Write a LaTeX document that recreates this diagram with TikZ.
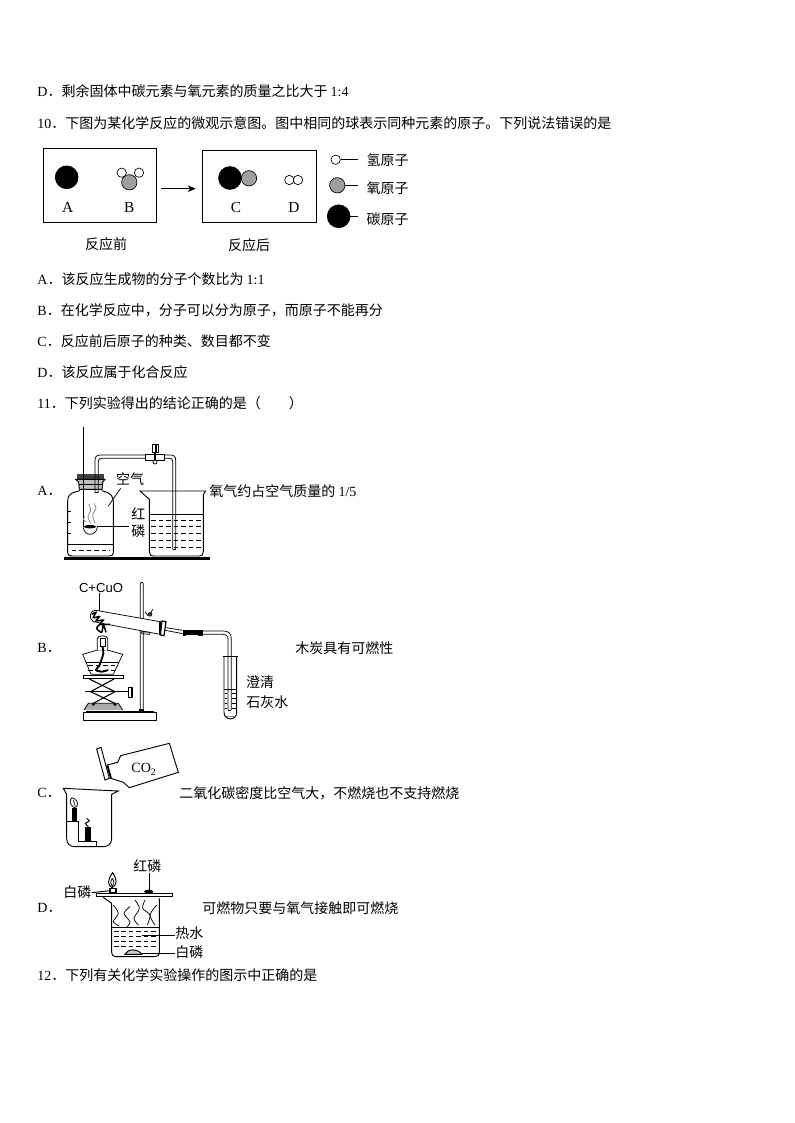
\documentclass[tikz,border=0pt]{standalone}
\usepackage{fontspec}
\setmainfont{Liberation Serif}
\setsansfont{Liberation Sans}
\newfontfamily\cjk{Noto Sans CJK SC}
\usetikzlibrary{arrows.meta,calc}
\tikzset{
  textline/.style={anchor=west,inner sep=0pt,font=\fontsize{10.5pt}{12pt}\selectfont\cjk},
  lab/.style={inner sep=0pt,font=\fontsize{10.5pt}{12pt}\selectfont\cjk},
  latin/.style={inner sep=0pt,font=\fontsize{11.5pt}{13pt}\selectfont},
  panelbox/.style={draw,anchor=north west,inner sep=0pt,line width=.7pt},
  atomblack/.style={circle,fill=black,draw=black,inner sep=0pt,minimum size=17pt},
  atomgrey/.style={circle,fill=gray!75,draw=black,inner sep=0pt,minimum size=11.5pt,line width=.5pt},
  atomwhite/.style={circle,fill=white,draw=black,inner sep=0pt,minimum size=7pt,line width=.5pt},
  thinl/.style={line width=.55pt},
  water/.style={line width=.55pt,dash pattern=on 3.4pt off 2.2pt},
}
\newcommand{\lat}[1]{{\rmfamily #1}}
\begin{document}
\begin{tikzpicture}[x=.75pt,y=-.75pt,line width=.65pt]
\useasboundingbox[fill=white] (0,0) rectangle (794,1123);
% text lines
\node[textline] (t1) at (37,91) {\lat{D}．剩余固体中碳元素与氧元素的质量之比大于 \lat{1:4}};
\node[textline] (t2) at (37,123) {\lat{10}．下图为某化学反应的微观示意图。图中相同的球表示同种元素的原子。下列说法错误的是};
\node[textline] (t3) at (37,279) {\lat{A}．该反应生成物的分子个数比为 \lat{1:1}};
\node[textline] (t4) at (37,310) {\lat{B}．在化学反应中，分子可以分为原子，而原子不能再分};
\node[textline] (t5) at (37,341) {\lat{C}．反应前后原子的种类、数目都不变};
\node[textline] (t6) at (37,372) {\lat{D}．该反应属于化合反应};
\node[textline] (t7) at (37,403) {\lat{11}．下列实验得出的结论正确的是（　　）};
\node[textline] (t8) at (37,491) {\lat{A}．};
\node[textline] (t9) at (209,491) {氧气约占空气质量的 \lat{1/5}};
\node[textline] (t10) at (37,648) {\lat{B}．};
\node[textline] (t11) at (295,648) {木炭具有可燃性};
\node[textline] (t12) at (37,793) {\lat{C}．};
\node[textline] (t13) at (179,793) {二氧化碳密度比空气大，不燃烧也不支持燃烧};
\node[textline] (t14) at (37,908) {\lat{D}．};
\node[textline] (t15) at (202,908) {可燃物只要与氧气接触即可燃烧};
\node[textline] (t16) at (37,975) {\lat{12}．下列有关化学实验操作的图示中正确的是};

% reaction diagram
\node[panelbox,minimum width=84.3pt,minimum height=55pt] (box1) at (43.3,148.3) {};
\node[panelbox,minimum width=85pt,minimum height=54pt] (box2) at (202.3,150.3) {};
\node[atomblack] (aA) at (66.7,177.3) {};
\node[atomgrey] (aB) at (129.3,182.3) {};
\node[atomwhite] (aB1) at (121.7,172.7) {};
\node[atomwhite] (aB2) at (139,172.7) {};
\node[atomblack] (aC) at (230,178) {};
\node[atomgrey] (aC2) at (249,178.3) {};
\node[atomwhite] (aD1) at (289.3,180) {};
\node[atomwhite] (aD2) at (298,180) {};
\node[latin] (lA) at (67.7,207.3) {A};
\node[latin] (lB) at (129.3,207.3) {B};
\node[latin] (lC) at (236,207.3) {C};
\node[latin] (lD) at (294,207.3) {D};
\coordinate (arS) at (161,188.7);
\coordinate (arE) at (195.7,188.7);
\draw[-{Stealth[length=6pt,width=5pt]}] (arS) -- (arE);
\node[atomwhite] (kH) at (335.7,159.7) {};
\node[atomgrey] (kO) at (337.3,185.3) {};
\node[atomblack] (kC) at (338.7,216.3) {};
\coordinate (kH2) at (358,159.7);
\coordinate (kO2) at (358,185.3);
\coordinate (kC2) at (358,216.3);
\draw (kH) -- (kH2); \draw (kO) -- (kO2); \draw (kC) -- (kC2);
\node[lab] (nH) at (387.7,160) {氢原子};
\node[lab] (nO) at (387.7,187.7) {氧原子};
\node[lab] (nC) at (387.7,219.3) {碳原子};
\node[lab] (nB) at (106,244) {反应前};
\node[lab] (nA) at (249,244.7) {反应后};

% ---------- apparatus A ----------
\begin{scope}[shift={(30,420)},x=.25pt,y=-.25pt]
\draw[line width=2.2pt] (103,415) -- (540,415);
% bottle
\draw[line width=.7pt] (150,212) -- (135,216) .. controls (120,220) and (113,228) .. (113,245) -- (113,395) .. controls (113,405) and (118,408) .. (128,408) -- (238,408) .. controls (246,408) and (250,405) .. (250,395) -- (250,245) .. controls (250,228) and (240,220) .. (228,216) -- (215,212);
\foreach \yy in {275,307,340} \draw[thinl] (113,\yy) -- (123,\yy);
\draw[thinl] (113,374) -- (250,374);
\draw[water] (125,392) -- (240,392);
% stopper
\fill[black!75] (142,163) rectangle (222,178);
\draw[line width=.7pt,fill=black!25] (137,178) -- (225,178) -- (218,186) -- (216,208) -- (148,208) -- (146,186) -- cycle;
\draw[thinl] (148,192) -- (216,192);
% tube
\draw[thinl] (195,218) -- (195,122) .. controls (195,110) and (200,105) .. (212,105) -- (345,105);
\draw[thinl] (205,218) -- (205,125) .. controls (205,118) and (208,115) .. (215,115) -- (345,115);
\draw[thinl] (195,218) -- (205,218);
\draw[thinl] (403,105) -- (422,105) .. controls (432,105) and (437,110) .. (437,120) -- (437,388);
\draw[thinl] (403,115) -- (418,115) .. controls (425,115) and (428,118) .. (428,125) -- (428,388);
\draw[thinl] (428,388) -- (437,388);
% clip
\draw[thinl,fill=white] (345,103) rectangle (403,120);
\draw[thinl,fill=white] (368,72) rectangle (376,98);
\draw[thinl,fill=white] (378,72) rectangle (386,98);
\draw[line width=.9pt] (375,98) -- (375,122);
\draw[thinl,fill=white] (375,126) circle[radius=6];
% rod, spoon, smoke
\draw[line width=.7pt] (160,20) -- (160,322);
\draw[thinl] (160,322) .. controls (162,350) and (198,350) .. (202,322);
\fill (180,320) ellipse[x radius=19,y radius=5];
\draw[thinl,gray] plot[smooth] coordinates {(182,310) (174,290) (182,270) (176,252)};
\draw[thinl,gray] plot[smooth] coordinates {(195,310) (188,285) (198,265) (192,250)};
\draw[thinl,gray] plot[smooth] coordinates {(168,305) (160,298) (165,290)};
% labels
\node[lab] (airL) at (300,178) {空气};
\node[lab] (redL1) at (325,280) {红};
\node[lab] (redL) at (325,335) {磷};
\coordinate (airA) at (272,205);
\coordinate (airB) at (235,258);
\draw[thinl] (airA) -- (airB);
\coordinate (redA) at (200,320);
\coordinate (redB) at (298,320);
\draw (redA) -- (redB);
% beaker
\draw[line width=.7pt] (358,238) -- (330,213) -- (527,213) -- (520,224) -- (520,395) .. controls (520,404) and (516,408) .. (508,408) -- (372,408) .. controls (362,408) and (358,404) .. (358,395) -- cycle;
\draw[thinl] (358,282) -- (520,282);
\foreach \yy in {300,320,340,360,382} \draw[water] (364,\yy) -- (516,\yy);
\end{scope}

% ---------- apparatus B ----------
\begin{scope}[shift={(60,575)},x=.25pt,y=-.25pt]
\node[inner sep=0pt,font=\fontsize{9.8pt}{12pt}\selectfont\sffamily] (cuo) at (123,38) {C+CuO};
\coordinate (cuoA) at (118,130);
\draw[thinl] (cuo.south -| cuoA) -- (cuoA);
% stand
\draw[thinl] (241,405) -- (241,28) .. controls (241,20) and (250,20) .. (250,28) -- (250,405);
\draw[line width=.7pt,fill=white] (70,435) rectangle (288,412);
\draw[line width=.7pt] (78,412) -- (78,408) -- (280,408) -- (280,412);
\fill (238,402) rectangle (253,410);
% test tube
\draw[thinl,fill=white] (300,140) -- (108,106) .. controls (88,106) and (85,130) .. (100,140) -- (300,178);
\draw[line width=.9pt] (300,138) -- (300,178);
\draw[line width=.9pt,fill=white] (306,138) -- (318,140) -- (312,182) -- (301,180) -- cycle;
\fill[black!80] (270,118) circle[radius=7];
\draw[thinl] (255,110) -- (264,122); \draw[thinl] (278,102) -- (272,116);
\draw[thinl] (244,170) -- (270,172) -- (268,178) -- (246,176) -- cycle;
% contents scribble
\draw[line width=1.1pt] plot[smooth] coordinates {(95,118) (108,112) (100,128) (118,125) (108,138) (130,135) (120,148) (150,148)};
\draw[line width=1.1pt] plot[smooth] coordinates {(120,148) (110,160) (125,172) (130,150) (138,172)};
% out tube
\draw[thinl] (318,158) -- (368,166);
\draw[thinl] (316,166) -- (368,176);
\fill (368,166) rectangle (428,180);
\fill (368,164) rectangle (378,182);
\fill (415,164) rectangle (428,182);
\draw[thinl] (428,168) -- (490,168) .. controls (505,168) and (514,175) .. (514,192) -- (514,405);
\draw[thinl] (428,178) -- (490,178) .. controls (498,178) and (504,182) .. (504,192) -- (504,405);
\draw[thinl] (504,405) -- (514,405);
% collecting tube
\draw[line width=.7pt] (492,243) -- (492,412) .. controls (492,438) and (530,438) .. (530,412) -- (530,243);
\draw[line width=.7pt] (488,243) -- (534,243);
\draw[thinl] (492,342) -- (530,342);
\foreach \yy in {355,370,385,400} \draw[thinl] (495,\yy) -- (502,\yy) (516,\yy) -- (527,\yy);
\draw[thinl,gray] (497,425) -- (525,425);
\node[lab] (ql) at (600,322) {澄清};
\node[lab] (sh) at (622,380) {石灰水};
% lamp
\draw[thinl,fill=white] (113,225) -- (68,238) -- (93,298) -- (160,298) -- (188,238) -- (142,225) -- cycle;
\draw[thinl] (78,262) -- (178,262);
\foreach \yy in {272,285} \draw[water] (85,\yy) -- (170,\yy);
\draw[thinl,fill=white] (112,225) -- (112,190) .. controls (112,180) and (143,180) .. (143,190) -- (143,225);
\draw[line width=.7pt,fill=white] (120,190) rectangle (135,213);
\draw[line width=1.4pt] plot[smooth] coordinates {(127,213) (130,235) (124,255) (118,272) (108,285) (125,290) (145,285)};
% lab jack
\draw[line width=.7pt,fill=white] (70,300) rectangle (190,311);
\draw[line width=.8pt] (88,312) -- (165,350) -- (100,385);
\draw[line width=.8pt] (162,312) -- (92,350) -- (165,385);
\draw[line width=1.1pt] (75,350) -- (205,350);
\draw[line width=1.1pt,fill=white] (205,338) rectangle (216,368);
\fill[gray!65] (72,405) -- (85,385) -- (175,385) -- (188,405) -- cycle;
\draw[thinl] (72,405) -- (85,385) -- (175,385) -- (188,405);
\fill (100,388) circle[radius=5]; \fill (165,388) circle[radius=5];
\end{scope}

% ---------- apparatus C ----------
\begin{scope}[shift={(50,735)},x=.25pt,y=-.25pt]
\draw[line width=.7pt,fill=white] (140,42) -- (153,37) -- (178,130) -- (165,135) -- cycle;
\draw[line width=.7pt] (172,90) -- (203,82) -- (212,62) -- (358,25) -- (385,112) -- (238,158) -- (220,142) -- (183,130) -- cycle;
\draw[line width=1.3pt] (172,90) -- (183,130);
\node[inner sep=0pt,font=\fontsize{10.5pt}{12pt}\selectfont] (co2) at (282,103) {CO\textsubscript{2}};
\draw[line width=.7pt] (50,178) -- (40,160) -- (205,168) -- (185,178) -- (185,310) .. controls (185,326) and (175,335) .. (160,335) -- (75,335) .. controls (60,335) and (50,326) .. (50,310) -- cycle;
\draw[line width=.7pt] (50,258) -- (84,258) -- (84,318) -- (140,318) -- (140,335);
\fill (66,218) rectangle (82,258);
\fill (105,275) rectangle (123,318);
\draw[thinl] (72,218) .. controls (58,208) and (58,195) .. (66,188) .. controls (78,190) and (88,205) .. (80,215) -- cycle;
\draw[line width=.8pt,black!70] (70,195) -- (76,214);
\draw[line width=.7pt] plot[smooth] coordinates {(110,250) (118,258) (106,265) (115,275)};
\end{scope}

% ---------- apparatus D ----------
\begin{scope}[shift={(50,850)},x=.25pt,y=-.25pt]
\draw[line width=.7pt] (160,142) -- (185,160) -- (185,305) .. controls (185,315) and (190,320) .. (200,320) -- (315,320) .. controls (324,320) and (328,315) .. (328,305) -- (328,145);
\draw[line width=.7pt,fill=white] (140,130) rectangle (367,140);
\draw[thinl] (185,232) -- (328,232);
\foreach \yy in {245,260,275,290} \draw[water] (192,\yy) -- (322,\yy);
\draw[thinl] plot[smooth] coordinates {(190,165) (205,190) (190,215) (208,228)};
\draw[thinl] plot[smooth] coordinates {(240,170) (222,190) (240,215) (232,230)};
\draw[thinl] plot[smooth] coordinates {(255,150) (268,175) (252,205) (265,225)};
\draw[thinl] plot[smooth] coordinates {(285,150) (278,175) (300,195) (292,225)};
\draw[thinl] plot[smooth] coordinates {(320,165) (300,195) (315,225)};
% phosphorus and flame on plate
\draw[line width=1pt,fill=white] (180,115) rectangle (198,129);
\draw[line width=.7pt] (188,68) .. controls (172,90) and (172,105) .. (186,113) .. controls (202,105) and (202,90) .. (188,68) -- cycle;
\draw[thinl] (187,85) .. controls (180,95) and (182,105) .. (187,110) .. controls (193,103) and (193,95) .. (187,85);
\fill (296,125) ellipse[x radius=14,y radius=6];
% labels and leaders
\node[lab] (rp) at (292,48) {红磷};
\coordinate (rpA) at (298,120);
\draw[line width=.7pt] (rp.south -| rpA) -- (rpA);
\node[lab] (wp) at (82,128) {白磷};
\coordinate (wpA) at (180,122);
\draw[line width=.7pt] (wp.east) -- (wpA);
\node[lab] (hw) at (418,250) {热水};
\coordinate (hwA) at (275,255);
\draw[line width=.7pt] (hwA) -- (hw.west |- hwA);
\node[lab] (wp2) at (418,308) {白磷};
\coordinate (wp2A) at (275,310);
\draw[line width=.7pt] (wp2A) -- (wp2.west |- wp2A);
\draw[line width=.7pt,fill=gray!40] (225,313) .. controls (232,295) and (265,295) .. (275,313) -- cycle;
\draw[line width=1.1pt] (228,313) -- (275,313);
\end{scope}
\end{tikzpicture}
\end{document}
